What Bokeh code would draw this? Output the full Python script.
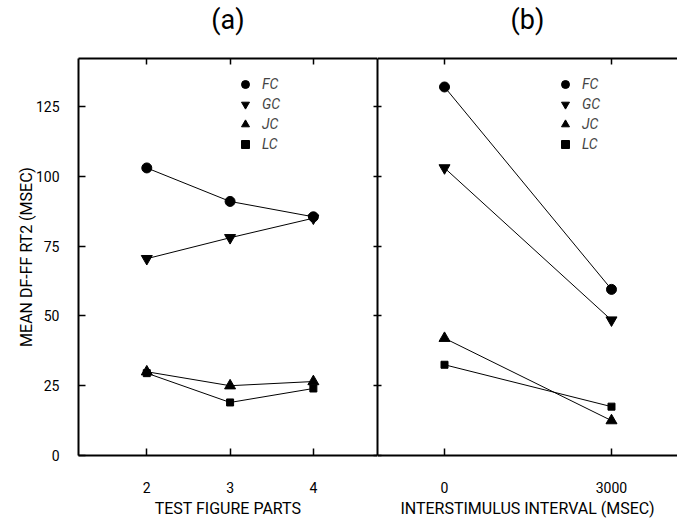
from bokeh.plotting import figure
from bokeh.models import LinearAxis, FixedTicker, Range1d, Legend, LegendItem
from bokeh.layouts import row
from bokeh.embed import file_html
from bokeh.resources import INLINE

# ---- data ----
parts = [2, 3, 4]
a_fc = [103, 91, 85.5]
a_gc = [70.5, 78, 85]
a_jc = [30, 25, 26.5]
a_lc = [29.5, 19, 24]

isi = [0, 3000]
b_fc = [132, 59.5]
b_gc = [103, 48.5]
b_jc = [42, 12.5]
b_lc = [32.5, 17.5]

y_ticks = [0, 25, 50, 75, 100, 125]
series_names = ["FC", "GC", "JC", "LC"]
markers = ["circle", "inverted_triangle", "triangle", "square"]
msizes = [10, 11, 11, 7]

FONT = "Roboto"
H = 521
Y_TOP = 142.2


def blank(ticks):
    return {t: "" for t in ticks}


def style_axis(ax, tick_in, tick_out=0):
    ax.axis_line_width = 2
    ax.axis_line_color = "black"
    ax.major_tick_line_color = "black"
    ax.major_tick_line_width = 1.5
    ax.major_tick_in = tick_in
    ax.major_tick_out = tick_out
    ax.minor_tick_line_color = None
    ax.major_label_text_font = FONT
    ax.major_label_text_font_size = "14px"
    ax.major_label_text_color = "black"
    ax.axis_label_text_font = FONT
    ax.axis_label_text_font_size = "16px"
    ax.axis_label_text_font_style = "normal"
    ax.axis_label_text_color = "black"


def make_fig(title, xr, w, left, right):
    # trailing empty line keeps the panel title well above the frame
    p = figure(width=w, height=H, x_range=xr, y_range=Range1d(0, Y_TOP),
               output_backend="svg", toolbar_location=None,
               x_axis_location=None, y_axis_location=None,
               min_border_left=left, min_border_right=right,
               min_border_top=58, min_border_bottom=66,
               title=title + "\n")
    p.outline_line_color = None
    p.xgrid.visible = False
    p.ygrid.visible = False
    p.title.align = "center"
    p.title.vertical_align = "bottom"
    p.title.text_font = FONT
    p.title.text_font_size = "27px"
    p.title.text_line_height = 0.7
    p.title.text_font_style = "normal"
    p.title.text_color = "black"
    p.title.standoff = 0
    p.background_fill_color = "white"
    p.border_fill_color = "white"
    return p


def add_series(p, xs, ys_list, legend_xy):
    items = []
    for name, ys, m, s in zip(series_names, ys_list, markers, msizes):
        p.line(xs, ys, line_color="black", line_width=1)
        r = p.scatter(xs, ys, marker=m, size=s, fill_color="black", line_color="black")
        items.append(LegendItem(label=name, renderers=[r]))
    lg = Legend(items=items, location=legend_xy, glyph_width=20, glyph_height=20,
                label_height=20, spacing=0, padding=0, margin=0,
                border_line_color=None, background_fill_alpha=0,
                label_text_font=FONT, label_text_font_style="italic",
                label_text_font_size="14px", label_standoff=7)
    p.add_layout(lg)


# ---- panel (a) ----
pa = make_fig("(a)", Range1d(1.18, 4.77), 377, 78, 0)
ax = LinearAxis(ticker=FixedTicker(ticks=y_ticks), axis_label="MEAN DF-FF RT2 (MSEC)")
style_axis(ax, 7)
ax.major_label_standoff = 19
ax.axis_label_standoff = -3
pa.add_layout(ax, "left")

bx = LinearAxis(ticker=FixedTicker(ticks=parts), axis_label="TEST FIGURE PARTS")
style_axis(bx, 7)
bx.major_label_standoff = 26
bx.axis_label_standoff = 3
pa.add_layout(bx, "below")

tx = LinearAxis(ticker=FixedTicker(ticks=parts), major_label_overrides=blank(parts))
style_axis(tx, 6)
tx.major_label_standoff = 0
pa.add_layout(tx, "above")

rx = LinearAxis(ticker=FixedTicker(ticks=y_ticks), major_label_overrides=blank(y_ticks))
style_axis(rx, 4)
rx.major_label_standoff = 0
pa.add_layout(rx, "right")

add_series(pa, parts, [a_fc, a_gc, a_jc, a_lc], (157, 301))

# ---- panel (b) ----
pb = make_fig("(b)", Range1d(-1204, 4186), 300, 0, 0)
lx = LinearAxis(ticker=FixedTicker(ticks=y_ticks), major_label_overrides=blank(y_ticks))
style_axis(lx, 4)
lx.major_label_standoff = 0
pb.add_layout(lx, "left")

bx2 = LinearAxis(ticker=FixedTicker(ticks=isi), axis_label="INTERSTIMULUS INTERVAL (MSEC)")
style_axis(bx2, 7)
bx2.major_label_standoff = 26
bx2.axis_label_standoff = 3
pb.add_layout(bx2, "below")

tx2 = LinearAxis(ticker=FixedTicker(ticks=isi), major_label_overrides=blank(isi))
style_axis(tx2, 6)
tx2.major_label_standoff = 0
pb.add_layout(tx2, "above")

add_series(pb, isi, [b_fc, b_gc, b_jc, b_lc], (178, 301))

layout = row(pa, pb, spacing=0)
open("out.html", "w").write(file_html(layout, INLINE))
